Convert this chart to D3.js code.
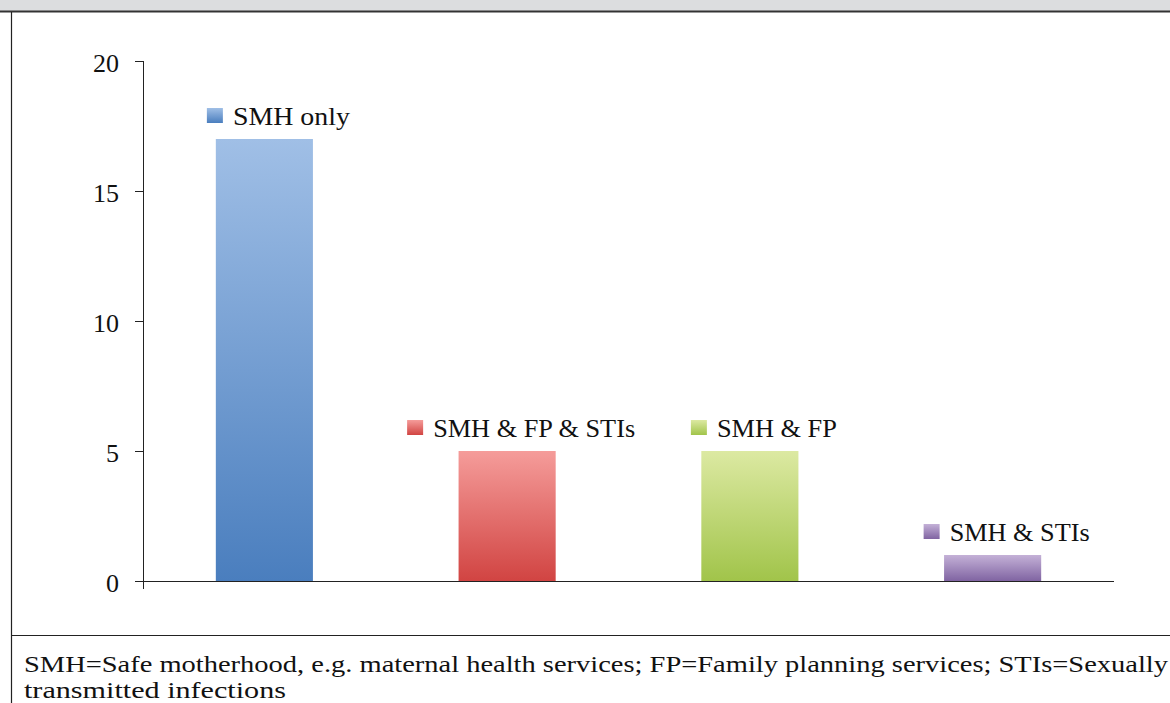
<!DOCTYPE html>
<html><head><meta charset="utf-8">
<script src="https://cdn.jsdelivr.net/npm/d3@7"></script>
<style>html,body{margin:0;padding:0;background:#fff;overflow:hidden}</style>
</head><body>
<svg id="c" width="1170" height="703"></svg>
<script>
const categories = ["SMH only", "SMH & FP & STIs", "SMH & FP", "SMH & STIs"];
const values = [17, 5, 5, 1];
const yTicks = [0, 5, 10, 15, 20];
const colorsTop = ["#a0bfe6", "#f59c9a", "#dce9a2", "#c4b1d7"];
const colorsBottom = ["#4a7ebe", "#d14442", "#a1c44a", "#8064a2"];
const labelWidths = [117, 202, 120, 140];
const footnote = ["SMH=Safe motherhood, e.g. maternal health services; FP=Family planning services; STIs=Sexually",
                  "transmitted infections"];
const footnoteWidths = [1144, 262];

const svg = d3.select("#c");
const font = "'Liberation Serif', 'DejaVu Serif', serif";

// frame
svg.append("rect").attr("x",0).attr("y",0).attr("width",1170).attr("height",11).attr("fill","#dcdddf");
svg.append("line").attr("x1",0).attr("x2",1170).attr("y1",11.5).attr("y2",11.5).attr("stroke","#333").attr("stroke-width",2);
svg.append("line").attr("x1",11.5).attr("x2",11.5).attr("y1",12).attr("y2",703).attr("stroke","#222").attr("stroke-width",1.2);
svg.append("line").attr("x1",11).attr("x2",1170).attr("y1",635.5).attr("y2",635.5).attr("stroke","#222").attr("stroke-width",1.2);

const x0 = 143, x1 = 1114, yTop = 61, yBot = 581;
const x = d3.scaleBand().domain(categories).range([x0, x1]).paddingInner(0.6).paddingOuter(0.3);
const y = d3.scaleLinear().domain([0, 20]).range([yBot, yTop]);

const defs = svg.append("defs");
categories.forEach((c,i)=>{
  const g = defs.append("linearGradient").attr("id","g"+i).attr("x1",0).attr("x2",0).attr("y1",0).attr("y2",1);
  g.append("stop").attr("offset","0%").attr("stop-color",colorsTop[i]);
  g.append("stop").attr("offset","100%").attr("stop-color",colorsBottom[i]);
});

// bars
svg.selectAll("rect.bar").data(values).enter().append("rect")
  .attr("class","bar")
  .attr("x",(d,i)=>x(categories[i]))
  .attr("width",x.bandwidth())
  .attr("y",d=>y(d))
  .attr("height",d=>y(0)-y(d))
  .attr("fill",(d,i)=>"url(#g"+i+")");

// y axis
const yAxis = d3.axisLeft(y).tickValues(yTicks).tickSize(8).tickPadding(16);
const ga = svg.append("g").attr("transform",`translate(${x0},0)`).call(yAxis);
ga.select(".domain").remove();
ga.selectAll(".tick line").attr("stroke","#222");
ga.selectAll(".tick text").attr("font-family",font).attr("font-size",26).attr("fill","#111").attr("dy","0.42em");
svg.append("line").attr("x1",x0+0.5).attr("x2",x0+0.5).attr("y1",yTop).attr("y2",yBot+8).attr("stroke","#222");
// x axis
svg.append("line").attr("x1",x0).attr("x2",x1).attr("y1",yBot+0.5).attr("y2",yBot+0.5).attr("stroke","#222");

// labels
categories.forEach((c,i)=>{
  const g = svg.append("g");
  const tw = labelWidths[i];
  g.append("text").attr("x",26).attr("y",0).attr("dy","0.35em")
    .attr("font-family",font).attr("font-size",26).attr("fill","#111")
    .attr("textLength", tw).attr("lengthAdjust","spacingAndGlyphs").text(c);
  g.append("rect").attr("x",0).attr("y",-8).attr("width",16).attr("height",15).attr("fill","url(#g"+i+")");
  const w = 26 + tw;
  const cx = x(c) + x.bandwidth()/2 + 14;
  g.attr("transform",`translate(${cx - w/2},${y(values[i]) - 23})`);
});

// footnote
footnote.forEach((s,i)=>{
  svg.append("text").attr("x",24).attr("y",672+i*26)
    .attr("font-family",font).attr("font-size",24).attr("fill","#111")
    .attr("textLength",footnoteWidths[i]).attr("lengthAdjust","spacingAndGlyphs").text(s);
});
</script>
</body></html>
